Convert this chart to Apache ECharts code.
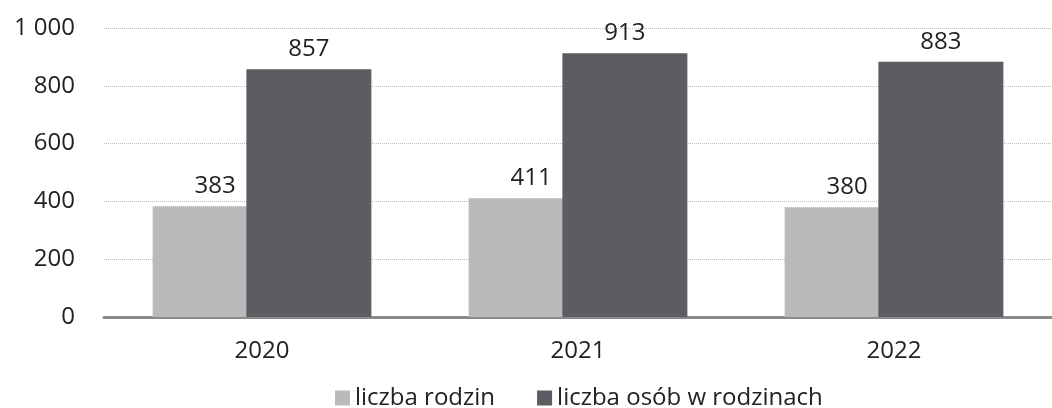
<!DOCTYPE html>
<html><head><meta charset="utf-8">
<script src="https://cdn.jsdelivr.net/npm/echarts@6/dist/echarts.min.js"></script>
<style>html,body{margin:0;padding:0;background:#fff}#c{width:1052px;height:408px}</style>
</head><body><div id="c"></div>
<script>
const categories = ['2020', '2021', '2022'];
const familiesCount = [383, 411, 380];
const personsCount = [857, 913, 883];
const seriesNames = ['liczba rodzin', 'liczba osób w rodzinach'];

const font = '"Open Sans", "Noto Sans", sans-serif';
const chart = echarts.init(document.getElementById('c'));
chart.setOption({
  animation: false,
  grid: { left: 104, right: 0, top: 28, bottom: 91 },
  legend: {
    bottom: -7, left: 330, itemWidth: 15, itemHeight: 15, itemGap: 42, icon: 'rect',
    textStyle: { fontFamily: font, fontSize: 24, color: '#222' },
    data: seriesNames
  },
  xAxis: {
    type: 'category', data: categories,
    axisLine: { lineStyle: { color: '#8a8a8a', width: 3 } },
    axisTick: { show: false },
    axisLabel: { fontFamily: font, fontSize: 24, color: '#222', margin: 22 }
  },
  yAxis: {
    type: 'value', min: 0, max: 1000, interval: 200,
    axisLine: { show: false }, axisTick: { show: false },
    splitLine: { lineStyle: { color: '#bbb', type: 'dotted', width: 1 } },
    axisLabel: {
      fontFamily: font, fontSize: 24, color: '#222', margin: 29,
      formatter: v => String(v).replace(/\B(?=(\d{3})+(?!\d))/g, ' ')
    }
  },
  series: [
    {
      name: seriesNames[0], type: 'bar', data: familiesCount, barWidth: 125, barGap: '-25%',
      itemStyle: { color: '#bababa' },
      label: { show: true, position: 'top', distance: 8, fontFamily: font, fontSize: 24, color: '#222' }
    },
    {
      name: seriesNames[1], type: 'bar', data: personsCount, barWidth: 125,
      itemStyle: { color: '#5c5c62' },
      label: { show: true, position: 'top', distance: 8, fontFamily: font, fontSize: 24, color: '#222' }
    }
  ]
});
</script></body></html>
